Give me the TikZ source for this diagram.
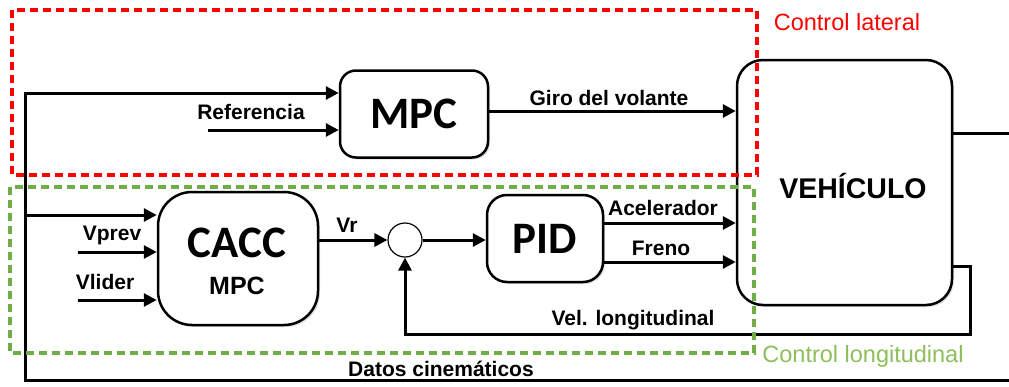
\documentclass[tikz,border=0pt]{standalone}
\usepackage{fontspec}
\setmainfont{Liberation Sans}
\newfontfamily\carl{Carlito}
\usetikzlibrary{arrows.meta,shadows,calc}
\definecolor{grn}{HTML}{70AD47}
\definecolor{grntxt}{HTML}{8CBF5A}
\tikzset{
  blk/.style={draw=black, line width=2.5pt, fill=white, inner sep=0pt,
    drop shadow={opacity=0.25, shadow xshift=2pt, shadow yshift=-2pt}},
  conn/.style={draw=black, line width=3pt, -{Triangle[length=13pt,width=13pt]}},
  wire/.style={draw=black, line width=3pt},
  lbl/.style={font=\fontsize{21}{22}\selectfont\bfseries, inner sep=0pt},
  big/.style={font=\carl\fontsize{45}{45}\selectfont\bfseries},
  reddash/.style={draw=red, line width=3.5pt, dash pattern=on 8pt off 5pt},
  grndash/.style={draw=grn, line width=3.5pt, dash pattern=on 8pt off 5pt},
}
\begin{document}
\begin{tikzpicture}[x=1pt,y=-1pt]
\useasboundingbox (0,0) rectangle (1009,386);
% blocks
\node[blk, rounded corners=16pt, minimum width=148pt, minimum height=87pt] (mpc) at (414,114) {};
\node[big] (mpct) at (mpc) {MPC};
\node[blk, rounded corners=26pt, minimum width=215pt, minimum height=245pt] (veh) at (844.5,182.5) {};
\node[font=\fontsize{28.5}{29}\selectfont\bfseries] (veht) at (853,186) {VEHÍCULO};
\node[blk, rounded corners=34pt, minimum width=160pt, minimum height=133pt] (cacc) at (238,258.5) {};
\node[big] (cacct) at (237,243) {CACC};
\node[font=\fontsize{25}{25}\selectfont\bfseries] (caccm) at (237,286) {MPC};
\node[draw=black, line width=1.2pt, circle, minimum size=34pt, inner sep=0pt, fill=white] (sum) at (405,240) {};
\node[blk, rounded corners=20pt, minimum width=116pt, minimum height=87pt] (pid) at (545,238.5) {};
\node[big] (pidt) at (pid) {PID};
% coordinates
\coordinate (lx) at (25,380);
\coordinate (rx) at (1009,380);
\coordinate (outx) at (1009,133);
\coordinate (ref0) at (208,130);
\coordinate (vp0) at (78,252);
\coordinate (vl0) at (78,300);
\coordinate (fbx) at (970,266);
% connectors
\draw[conn] (ref0) -- (mpc.west |- ref0);
\draw[conn] ($(mpc.east)+(0,-3)$) -- (veh.west |- {$(mpc.east)+(0,-3)$});
\draw[wire] (veh.east |- outx) -- (outx);
\draw[conn] (rx) -- (lx) -- (lx |- 0,93) -- (mpc.west |- 0,93);
\draw[conn] (lx |- 0,215) -- (cacc.west |- 0,215);
\draw[conn] (vp0) -- (cacc.west |- vp0);
\draw[conn] (vl0) -- (cacc.west |- vl0);
\draw[conn] (cacc.east |- sum.west) -- (sum.west);
\draw[conn] (sum.east) -- (pid.west |- sum.east);
\draw[conn] (pid.east |- 0,223) -- (veh.west |- 0,223);
\draw[conn] (pid.east |- 0,262) -- (veh.west |- 0,262);
\draw[conn] (veh.east |- fbx) -- (fbx) -- (fbx |- 0,334) -- (sum.south |- 0,334) -- (sum.south);
% labels
\node[lbl] (lref) at (251,112) {Referencia};
\node[lbl] (lgiro) at (609,98) {Giro del volante};
\node[lbl] (lvp) at (112,235) {Vprev};
\node[lbl] (lvl) at (105,282) {Vlider};
\node[lbl] (lvr) at (347,225) {Vr};
\node[lbl] (lacc) at (663,208) {Acelerador};
\node[lbl] (lfr) at (661,248) {Freno};
\node[lbl] (lvel) at (633,320) {Vel. longitudinal};
\node[lbl] (ldat) at (441,369) {Datos cinemáticos};
% dashed regions
\draw[reddash] (12,10) rectangle (757,175);
\draw[grndash] (10,187) rectangle (754,353);
\node[text=red, font=\fontsize{23.5}{24}\selectfont, inner sep=0pt] (lcl) at (847,22) {Control lateral};
\node[text=grntxt, font=\fontsize{23.5}{24}\selectfont, inner sep=0pt] (lclo) at (863,356) {Control longitudinal};
\end{tikzpicture}
\end{document}
